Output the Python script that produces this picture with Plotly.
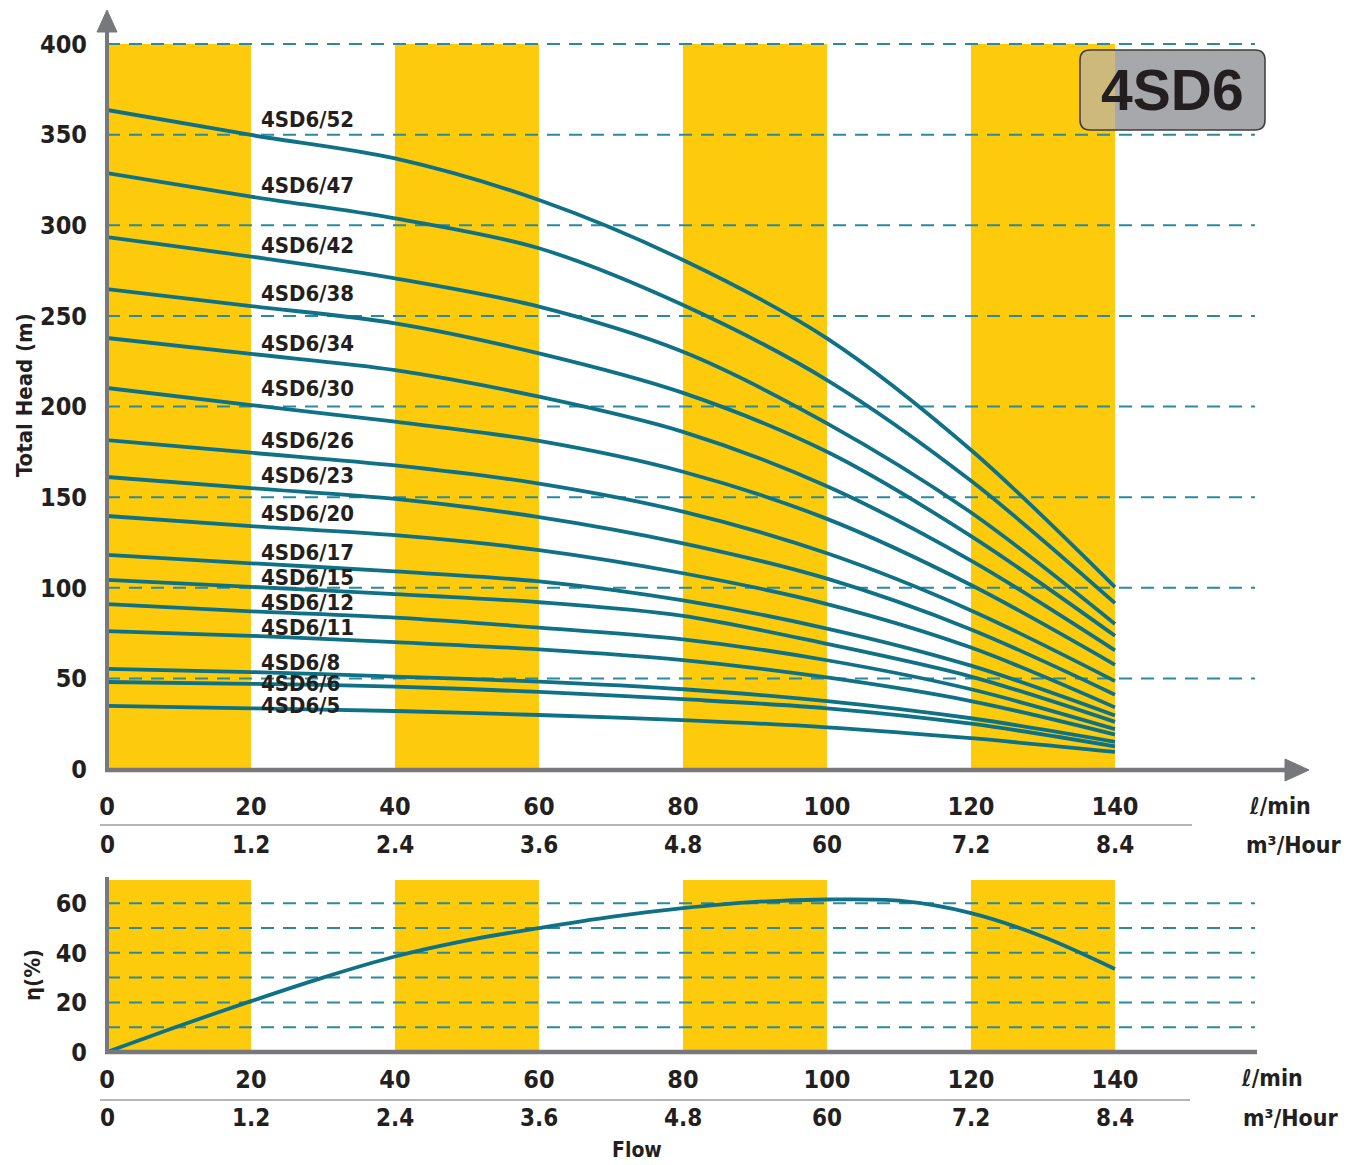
import plotly.graph_objects as go

# ---------------- data ----------------
flow_lpm = [0, 20, 40, 60, 80, 100, 120, 140]

models = ["4SD6/52", "4SD6/47", "4SD6/42", "4SD6/38", "4SD6/34", "4SD6/30", "4SD6/26", "4SD6/23",
          "4SD6/20", "4SD6/17", "4SD6/15", "4SD6/12", "4SD6/11", "4SD6/8", "4SD6/6", "4SD6/5"]

head_52 = [363.6, 349.8, 336.9, 313.9, 280.8, 237.6, 176.0, 100.4]
head_47 = [328.8, 315.8, 303.8, 287.3, 256.0, 214.6, 159.0, 91.5]
head_42 = [293.5, 282.7, 270.7, 255.1, 230.2, 190.7, 141.5, 80.0]
head_38 = [264.8, 255.4, 245.9, 229.3, 207.5, 175.0, 128.5, 73.5]
head_34 = [237.8, 229.0, 220.1, 205.4, 186.0, 156.0, 115.0, 65.5]
head_30 = [210.2, 200.8, 191.6, 181.0, 164.0, 138.0, 101.5, 57.5]
head_26 = [181.5, 174.5, 167.5, 157.5, 142.0, 119.0, 87.5, 48.5]
head_23 = [161.1, 155.0, 149.0, 139.0, 124.5, 105.0, 77.0, 41.0]
head_20 = [139.6, 134.0, 129.0, 120.8, 108.0, 91.0, 67.0, 34.0]
head_17 = [118.1, 113.5, 109.0, 103.5, 93.0, 77.5, 57.0, 29.5]
head_15 = [104.3, 100.5, 96.5, 92.0, 84.5, 69.0, 51.0, 26.0]
head_12 = [91.0, 87.0, 83.5, 78.0, 71.5, 60.0, 44.0, 22.0]
head_11 = [76.1, 73.5, 70.0, 66.0, 60.1, 50.5, 37.5, 19.0]
head_8 = [55.2, 53.5, 51.0, 48.2, 44.0, 37.5, 28.0, 15.0]
head_6 = [48.0, 47.0, 45.5, 42.5, 38.5, 33.5, 25.0, 12.5]
head_5 = [34.8, 33.5, 32.0, 29.8, 27.0, 23.0, 17.0, 9.4]

heads = [head_52, head_47, head_42, head_38, head_34, head_30, head_26, head_23,
         head_20, head_17, head_15, head_12, head_11, head_8, head_6, head_5]

eff_flow = [0, 10, 20, 30, 40, 50, 60, 70, 80, 90, 100, 110, 120, 130, 140]
eff_pct = [0, 10.5, 20.5, 30.0, 38.5, 45.0, 50.0, 54.5, 58.0, 60.5, 61.5, 61.0, 56.0, 46.5, 33.5]

x_ticks = [0, 20, 40, 60, 80, 100, 120, 140]
x_ticktext_m3 = ["0", "1.2", "2.4", "3.6", "4.8", "60", "7.2", "8.4"]
y_ticks_head = [0, 50, 100, 150, 200, 250, 300, 350, 400]
y_ticks_eff = [0, 20, 40, 60]
grid_head = [50, 100, 150, 200, 250, 300, 350, 400]
grid_eff = [10, 20, 30, 40, 50, 60]
bands = [(0, 20), (40, 60), (80, 100), (120, 140)]

# label heights (data units) for the curve names
label_y = [358.1, 322.2, 288.6, 262.1, 235.0, 209.7, 181.0, 161.7,
           141.2, 119.7, 105.9, 91.6, 78.3, 59.0, 46.9, 34.8]

# ---------------- styling / layout constants ----------------
W, H = 1356, 1165
X0PX, PXPU = 107, 7.2           # x pixel of flow 0, pixels per l/min
XR = (1305 - X0PX) / PXPU        # x range max
TOP_Y0, TOP_PPU = 769, 1.8125
BOT_Y0, BOT_PPU = 1052, 2.48
YR_TOP = (TOP_Y0 - 12) / TOP_PPU
YR_BOT = (BOT_Y0 - 875) / BOT_PPU
GRID_END = (1255 - X0PX) / PXPU

YELLOW = "#FDCB0B"
TEAL = "#0E7186"
GRIDC = "#2A8BA0"
AXISC = "#77787B"
TXT = "#231F20"
NARROW = "DejaVu Sans Condensed, Liberation Sans Narrow, Arial Narrow, sans-serif"


def py(px):
    return 1 - px / H


def pxx(px):
    return px / W


fig = go.Figure()

for name, h in zip(models, heads):
    fig.add_trace(go.Scatter(x=flow_lpm, y=h, mode="lines", name=name,
                             line=dict(color=TEAL, width=3.8, shape="spline", smoothing=0.9),
                             xaxis="x", yaxis="y", showlegend=False, hoverinfo="x+y+name"))

fig.add_trace(go.Scatter(x=eff_flow, y=eff_pct, mode="lines", name="η",
                         line=dict(color=TEAL, width=3.8, shape="spline", smoothing=0.9),
                         xaxis="x2", yaxis="y2", showlegend=False))

shapes = []
# yellow bands
for a, b in bands:
    shapes.append(dict(type="rect", xref="x", yref="y", x0=a, x1=b, y0=0, y1=400,
                       fillcolor=YELLOW, line=dict(width=0), layer="below"))
    shapes.append(dict(type="rect", xref="x2", yref="y2", x0=a, x1=b, y0=0, y1=(BOT_Y0 - 880) / BOT_PPU,
                       fillcolor=YELLOW, line=dict(width=0), layer="below"))
# dashed grid
for g in grid_head:
    shapes.append(dict(type="line", xref="x", yref="y", x0=0, x1=GRID_END, y0=g, y1=g,
                       line=dict(color=GRIDC, width=2, dash="13px,9px"), layer="below"))
for g in grid_eff:
    shapes.append(dict(type="line", xref="x2", yref="y2", x0=0, x1=GRID_END, y0=g, y1=g,
                       line=dict(color=GRIDC, width=2, dash="13px,9px"), layer="below"))


def pline(x0, y0, x1, y1, width, color=AXISC):
    return dict(type="line", xref="paper", yref="paper", x0=pxx(x0), x1=pxx(x1), y0=py(y0), y1=py(y1),
                line=dict(color=color, width=width), layer="above")


def ppath(pts, color=AXISC):
    p = "M " + " L ".join(f"{pxx(a)},{py(b)}" for a, b in pts) + " Z"
    return dict(type="path", xref="paper", yref="paper", path=p, fillcolor=color,
                line=dict(color=color, width=1), layer="above")


# axis lines with arrows (top chart), in paper coordinates so they are not clipped
shapes.append(pline(X0PX, TOP_Y0, X0PX, 30, 4))
shapes.append(pline(X0PX - 2, TOP_Y0 + 1, 1290, TOP_Y0 + 1, 4.5))
shapes.append(ppath([(X0PX - 10, 32), (X0PX, 10), (X0PX + 10, 32)]))
shapes.append(ppath([(1285, TOP_Y0 - 10), (1309, TOP_Y0 + 1), (1285, TOP_Y0 + 12)]))

# bottom chart axis lines
shapes.append(pline(X0PX, BOT_Y0, X0PX, 877, 4))
shapes.append(pline(X0PX - 2, BOT_Y0, 1257, BOT_Y0, 4.5))

# separator lines between tick rows
shapes.append(pline(100, 825, 1192, 825, 2, "#B5B6B8"))
shapes.append(pline(100, 1100, 1190, 1100, 2, "#B5B6B8"))

# badge "4SD6"
bx0, bx1 = (1080 - X0PX) / PXPU, (1265 - X0PX) / PXPU
by0, by1 = (TOP_Y0 - 130) / TOP_PPU, (TOP_Y0 - 50) / TOP_PPU
rx, ry = 10 / PXPU, 10 / TOP_PPU


def rounded(x0, x1, y0, y1, right_round=True):
    p = f"M {x0 + rx},{y1} "
    if right_round:
        p += f"L {x1 - rx},{y1} Q {x1},{y1} {x1},{y1 - ry} L {x1},{y0 + ry} Q {x1},{y0} {x1 - rx},{y0} "
    else:
        p += f"L {x1},{y1} L {x1},{y0} "
    p += f"L {x0 + rx},{y0} Q {x0},{y0} {x0},{y0 + ry} L {x0},{y1 - ry} Q {x0},{y1} {x0 + rx},{y1} Z"
    return p


shapes.append(dict(type="path", xref="x", yref="y", path=rounded(bx0, bx1, by0, by1),
                   fillcolor="#A7A8AB", line=dict(width=0), layer="above"))
shapes.append(dict(type="path", xref="x", yref="y", path=rounded(bx0, 140, by0, by1, right_round=False),
                   fillcolor="#CDB97C", line=dict(width=0), layer="above"))
shapes.append(dict(type="path", xref="x", yref="y", path=rounded(bx0, bx1, by0, by1),
                   fillcolor="rgba(0,0,0,0)", line=dict(color="#3C3C3C", width=1.5), layer="above"))

annotations = []
# curve labels
for name, ly in zip(models, label_y):
    annotations.append(dict(x=(259 - X0PX) / PXPU, y=ly, xref="x", yref="y", text=name, showarrow=False,
                            xanchor="left", yanchor="middle",
                            font=dict(family=NARROW, size=22, color=TXT, weight="bold")))
# badge text
annotations.append(dict(x=(bx0 + bx1) / 2, y=(by0 + by1) / 2, xref="x", yref="y", text="4SD6",
                        showarrow=False, xanchor="center", yanchor="middle",
                        font=dict(family="Liberation Sans, Arial, sans-serif", size=57, color=TXT, weight="bold")))
# second row of x tick labels (m3/h)
for v, t in zip(x_ticks, x_ticktext_m3):
    annotations.append(dict(x=v, y=py(845), xref="x", yref="paper", text=t, showarrow=False,
                            xanchor="center", yanchor="middle",
                            font=dict(family=NARROW, size=24, color=TXT, weight="bold")))
    annotations.append(dict(x=v, y=py(1118), xref="x2", yref="paper", text=t, showarrow=False,
                            xanchor="center", yanchor="middle",
                            font=dict(family=NARROW, size=24, color=TXT, weight="bold")))
# units
for txt, xp, yp in [("ℓ/min", 1280, 806), ("m³/Hour", 1293, 845), ("ℓ/min", 1272, 1078), ("m³/Hour", 1290, 1118)]:
    annotations.append(dict(x=pxx(xp), y=py(yp), xref="paper", yref="paper", text=txt, showarrow=False,
                            xanchor="center", yanchor="middle",
                            font=dict(family=NARROW, size=23, color=TXT, weight="bold")))
# axis titles
annotations.append(dict(x=pxx(25), y=py(395), xref="paper", yref="paper", text="Total Head (m)", textangle=-90,
                        showarrow=False, xanchor="center", yanchor="middle",
                        font=dict(family=NARROW, size=22, color=TXT, weight="bold")))
annotations.append(dict(x=pxx(32), y=py(975), xref="paper", yref="paper", text="η(%)", textangle=-90,
                        showarrow=False, xanchor="center", yanchor="middle",
                        font=dict(family=NARROW, size=22, color=TXT, weight="bold")))
annotations.append(dict(x=pxx(637), y=py(1150), xref="paper", yref="paper", text="Flow",
                        showarrow=False, xanchor="center", yanchor="middle",
                        font=dict(family=NARROW, size=21, color=TXT, weight="bold")))

tickfont = dict(family=NARROW, size=25, color=TXT, weight="bold")
xdom = [X0PX / W, 1305 / W]
common = dict(ticks="", showgrid=False, zeroline=False, showline=False, automargin=False,
              tickfont=tickfont, fixedrange=True)

fig.update_layout(
    width=W, height=H, autosize=False,
    margin=dict(l=0, r=0, t=0, b=0, autoexpand=False),
    paper_bgcolor="white", plot_bgcolor="rgba(0,0,0,0)",
    showlegend=False,
    xaxis=dict(domain=xdom, range=[0, XR], anchor="y", tickvals=x_ticks, ticklabelstandoff=20, **common),
    yaxis=dict(domain=[py(TOP_Y0), py(12)], range=[0, YR_TOP], anchor="x", tickvals=y_ticks_head,
               ticklabelstandoff=19, **common),
    xaxis2=dict(domain=xdom, range=[0, XR], anchor="y2", tickvals=x_ticks, ticklabelstandoff=10, **common),
    yaxis2=dict(domain=[py(BOT_Y0), py(875)], range=[0, YR_BOT], anchor="x2", tickvals=y_ticks_eff,
                ticklabelstandoff=19, **common),
    shapes=shapes,
    annotations=annotations,
)

fig.write_html("out.html", config={"displayModeBar": False},
               post_script="document.body.style.margin='0';document.body.style.overflow='hidden';")
